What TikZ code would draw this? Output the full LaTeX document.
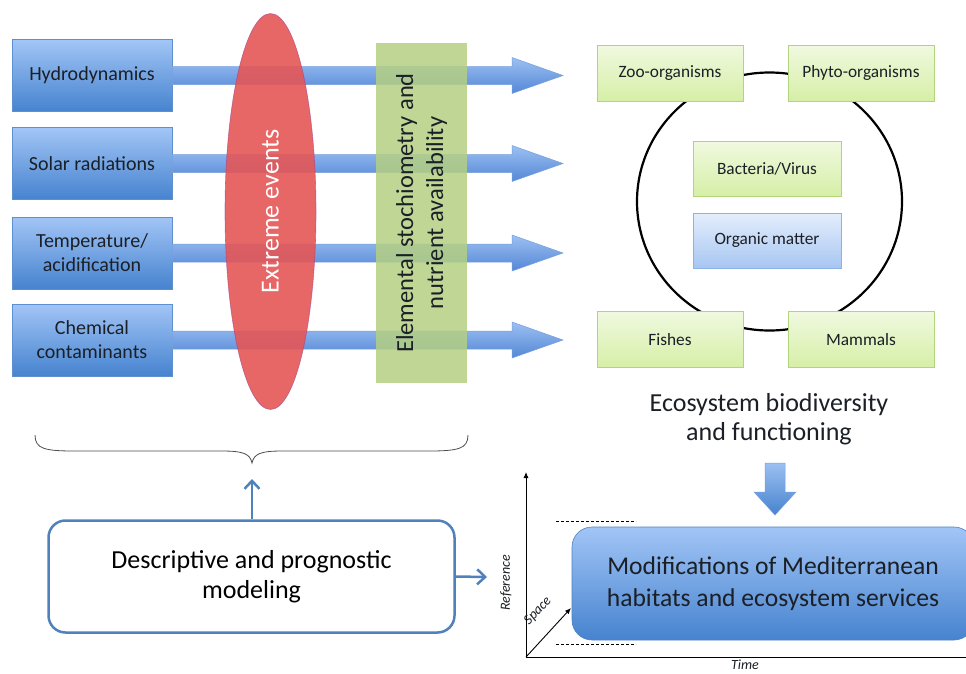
\documentclass[tikz,border=0pt]{standalone}
\usepackage{fontspec}
\setmainfont{Carlito}
\usetikzlibrary{shapes.geometric,arrows.meta,calc}
\definecolor{boxtop}{HTML}{A2C5F6}
\definecolor{boxbot}{HTML}{4683CF}
\definecolor{boxedge}{HTML}{5E90CF}
\definecolor{arrtop}{HTML}{9CC0F2}
\definecolor{arrbot}{HTML}{5487D6}
\definecolor{redell}{HTML}{E45656}
\definecolor{greenrect}{HTML}{B4CF82}
\definecolor{gtop}{HTML}{F0F9E0}
\definecolor{gbot}{HTML}{D6EFA6}
\definecolor{gedge}{HTML}{B2D47C}
\definecolor{otop}{HTML}{E4EEFC}
\definecolor{obot}{HTML}{A7C6F1}
\definecolor{oedge}{HTML}{8DB3E6}
\definecolor{steel}{HTML}{4F81BD}
\definecolor{txt}{HTML}{1B1F26}
\tikzset{
  bluebox/.style={rectangle, draw=boxedge, line width=0.6pt, top color=boxtop, bottom color=boxbot,
    minimum width=160pt, minimum height=72pt, align=center, text=txt,
    font=\fontsize{20}{24}\selectfont},
  blockarrow/.style={draw=arrbot!80!white, line width=0.5pt, top color=arrtop, bottom color=arrbot},
  greenbox/.style={rectangle, draw=gedge, line width=0.8pt, top color=gtop, bottom color=gbot,
    minimum width=146pt, minimum height=56pt, text=txt, font=\fontsize{17.3}{20}\selectfont},
  orgbox/.style={rectangle, draw=oedge, line width=0.8pt, top color=otop, bottom color=obot,
    minimum width=148pt, minimum height=55pt, text=txt, font=\fontsize{17.3}{20}\selectfont},
  modelarrow/.style={draw=steel, line width=2.5pt, -{Straight Barb[length=8pt,width=15pt,line width=2.5pt]}},
  axislabel/.style={font=\itshape\fontsize{14}{16}\selectfont, text=txt}
}
\begin{document}
\begin{tikzpicture}[x=1pt,y=-1pt]
\useasboundingbox (0,0) rectangle (966,673);

% left driver boxes
\node[bluebox] (h1) at (92,75.5) {Hydrodynamics};
\node[bluebox] (h2) at (92,163.5) {Solar radiations};
\node[bluebox] (h3) at (92,253) {Temperature/\\acidification};
\node[bluebox] (h4) at (92,340) {Chemical\\contaminants};

\coordinate (hb) at (512,0);
\coordinate (tip) at (563,0);
\foreach \n in {h1,h2,h3,h4}{
  \path[blockarrow] ($(\n.east)+(0,-9)$) -- ($(\n.east -| hb)+(0,-9)$) -- ($(\n.east -| hb)+(0,-18)$)
     -- (\n.east -| tip) -- ($(\n.east -| hb)+(0,18)$) -- ($(\n.east -| hb)+(0,9)$) -- ($(\n.east)+(0,9)$) -- cycle;
}

% extreme events ellipse
\node[ellipse, fill=redell, fill opacity=0.9, draw=redell!70!blue, draw opacity=0.6, line width=0.6pt,
  minimum width=91pt, minimum height=396pt, inner sep=0pt] (ext) at (270.5,211.5) {};
\node[rotate=90, text=white, font=\fontsize{26}{30}\selectfont] (extlbl) at (ext.center) {Extreme events};

% stoichiometry rectangle
\node[rectangle, fill=greenrect, fill opacity=0.85, minimum width=91pt, minimum height=340pt, inner sep=0pt]
  (stoi) at (421.5,213) {};
\node[rotate=90, align=center, text=txt, font=\fontsize{24.5}{30}\selectfont] (stoilbl) at (stoi.center)
  {Elemental stochiometry and\\nutrient availability};

% ecosystem ring
\node[ellipse, draw=black, line width=2.2pt, minimum width=265pt, minimum height=258pt] (ring) at (769.5,201.5) {};
\node[greenbox] (zoo) at (670,73) {Zoo-organisms};
\node[greenbox] (phy) at (861,73) {Phyto-organisms};
\node[greenbox, minimum width=148pt, minimum height=55pt] (bac) at (767,168.5) {Bacteria/Virus};
\node[orgbox] (org) at (767,240.5) {Organic matter};
\node[greenbox] (fis) at (670,339.5) {Fishes};
\node[greenbox] (mam) at (861,339.5) {Mammals};

\node[align=center, text=txt, font=\fontsize{26}{29}\selectfont] (eco) at (769,419) {Ecosystem biodiversity\\and functioning};

% down block arrow
\path[blockarrow, top color=arrtop, bottom color=boxbot] (765,463) -- (785,463) -- (785,492) -- (796,492) -- (775,515) -- (754,492) -- (765,492) -- cycle;

% chart
\coordinate (orig) at (526,657);
\coordinate (ytop) at (526,472);
\coordinate (xend) at (970,657);
\coordinate (spc) at (571,608);
\draw[line width=0.9pt, -{Latex[length=6pt,width=5pt]}] (orig) -- (ytop);
\draw[line width=0.9pt] (orig) -- (xend);
\draw[line width=0.9pt, -{Latex[length=6pt,width=5pt]}] (orig) -- (spc);
\coordinate (d1a) at (556,521); \coordinate (d1b) at (636,521);
\coordinate (d2a) at (556,644); \coordinate (d2b) at (636,644);
\draw[dashed, line width=0.7pt, dash pattern=on 3pt off 2pt] (d1a) -- (d1b);
\draw[dashed, line width=0.7pt, dash pattern=on 3pt off 2pt] (d2a) -- (d2b);
\node[axislabel, rotate=90] (refl) at (506,583) {Reference};
\node[axislabel, rotate=47] (spl) at (538,611) {Space};
\node[axislabel] (timel) at (745,665) {Time};

\node[rectangle, rounded corners=20pt, draw=steel, line width=0.6pt, top color=boxtop, bottom color=boxbot,
  minimum width=402pt, minimum height=113pt, align=center, text=txt, font=\fontsize{25.6}{32}\selectfont]
  (mod) at (773,583.5) {Modifications of Mediterranean\\habitats and ecosystem services};

% brace
\coordinate (bl) at (35,435);
\coordinate (br) at (468,435);
\coordinate (bc) at (252,463);
\draw[black!70, line width=0.8pt] (bl) .. controls (35,449) and (45,451) .. (75,451) -- (222,451)
  .. controls (244,451) and (250,454) .. (bc) .. controls (254,454) and (260,451) .. (282,451)
  -- (428,451) .. controls (458,451) and (468,449) .. (br);

% modeling box
\node[rectangle, rounded corners=17pt, draw=steel, line width=2.5pt, fill=white,
  minimum width=406pt, minimum height=112pt, align=center, text=black, font=\fontsize{26}{30}\selectfont]
  (desc) at (251.5,576.5) {Descriptive and prognostic\\modeling};
\coordinate (upend) at (252,479);
\coordinate (rtend) at (487,577);
\draw[modelarrow] (desc.north -| upend) -- (upend);
\draw[modelarrow] (desc.east) -- (rtend);
\end{tikzpicture}
\end{document}
